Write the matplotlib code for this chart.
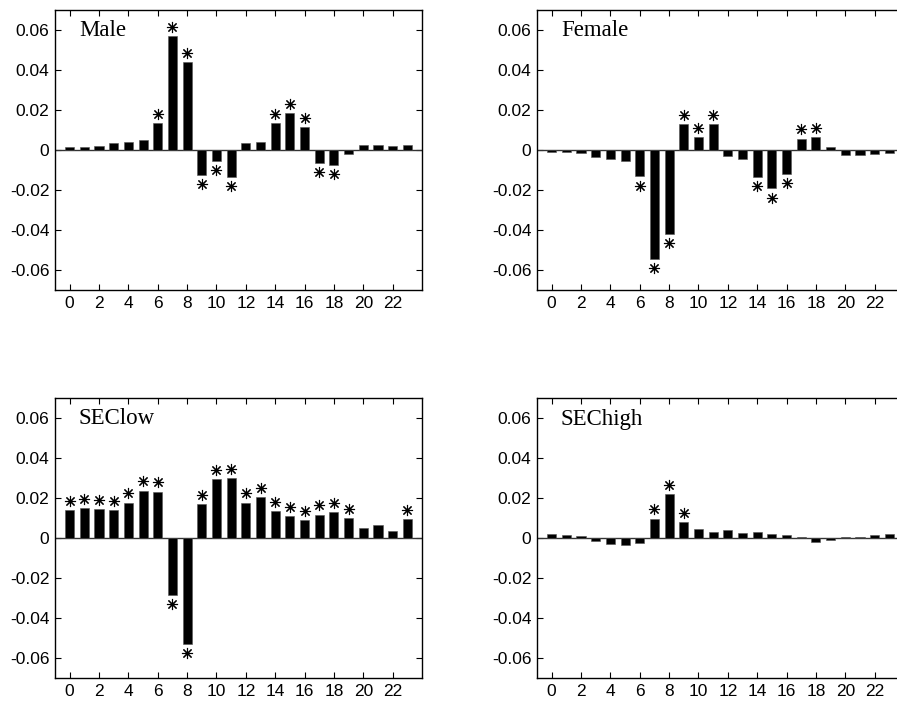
import numpy as np
import matplotlib.pyplot as plt

hours = np.arange(24)

male = [0.0017, 0.0015, 0.0020, 0.0033, 0.0040, 0.0052, 0.0135, 0.0570,
        0.0438, -0.0125, -0.0055, -0.0135, 0.0033, 0.0040, 0.0133, 0.0185,
        0.0115, -0.0063, -0.0073, -0.0018, 0.0023, 0.0023, 0.0020, 0.0023]
male_sig = [6, 7, 8, 9, 10, 11, 14, 15, 16, 17, 18]

female = [-0.0012, -0.0012, -0.0017, -0.0035, -0.0045, -0.0055, -0.0132, -0.0545,
          -0.0418, 0.0130, 0.0063, 0.0128, -0.0028, -0.0047, -0.0133, -0.0192,
          -0.0118, 0.0057, 0.0063, 0.0013, -0.0027, -0.0025, -0.0020, -0.0017]
female_sig = [6, 7, 8, 9, 10, 11, 14, 15, 16, 17, 18]

seclow = [0.0138, 0.0148, 0.0143, 0.0138, 0.0177, 0.0237, 0.0232, -0.0285,
          -0.0530, 0.0170, 0.0293, 0.0298, 0.0177, 0.0203, 0.0135, 0.0110,
          0.0088, 0.0117, 0.0128, 0.0098, 0.0050, 0.0065, 0.0035, 0.0093]
seclow_sig = list(range(20)) + [23]

sechigh = [0.0018, 0.0017, 0.0012, -0.0015, -0.0030, -0.0033, -0.0027, 0.0097,
           0.0218, 0.0080, 0.0043, 0.0028, 0.0038, 0.0027, 0.0030, 0.0022,
           0.0017, 0.0005, -0.0018, -0.0008, 0.0007, 0.0005, 0.0013, 0.0018]
sechigh_sig = [7, 8, 9]

panels = [("Male", male, male_sig),
          ("Female", female, female_sig),
          ("SEClow", seclow, seclow_sig),
          ("SEChigh", sechigh, sechigh_sig)]

# axes boxes in pixels (left, top, right, bottom) for a 897x703 figure
W, H = 897, 703
boxes = [(55, 10, 422, 290), (537, 10, 904, 290),
         (55, 398, 422, 678), (537, 398, 904, 678)]

plt.rcParams['font.family'] = ['Liberation Sans', 'DejaVu Sans']
fig = plt.figure(figsize=(W / 100, H / 100), dpi=100)

for (name, vals, sig), (l, t, r, b) in zip(panels, boxes):
    ax = fig.add_axes([l / W, 1 - b / H, (r - l) / W, (b - t) / H])
    vals = np.array(vals)
    ax.bar(hours, vals, width=0.62, color='black', edgecolor='#555555', linewidth=0.4, zorder=3)
    ax.axhline(0, color='#333333', linewidth=1.0, zorder=2)

    # significance stars
    sx = np.array(sig)
    sv = vals[sx]
    sy = sv + np.sign(sv) * 0.0047
    ax.plot(sx, sy, linestyle='none', marker=(8, 2, 0), markersize=8,
            markeredgewidth=0.8, color='black', zorder=4)

    ax.set_xlim(-1, 24)
    ax.set_ylim(-0.07, 0.07)
    ax.set_xticks(np.arange(0, 23, 2))
    ax.set_yticks([-0.06, -0.04, -0.02, 0, 0.02, 0.04, 0.06])
    ax.set_yticklabels(['-0.06', '-0.04', '-0.02', '0', '0.02', '0.04', '0.06'])
    ax.tick_params(direction='in', top=True, right=True, length=4, width=0.8,
                   labelsize=12.5, pad=4)
    for s in ax.spines.values():
        s.set_linewidth(1.0)
    ax.text(0.065, 0.925, name, transform=ax.transAxes, fontsize=16.5,
            family=['Liberation Serif', 'DejaVu Serif'], va='center', ha='left')

fig.savefig('out.png', dpi=100)
